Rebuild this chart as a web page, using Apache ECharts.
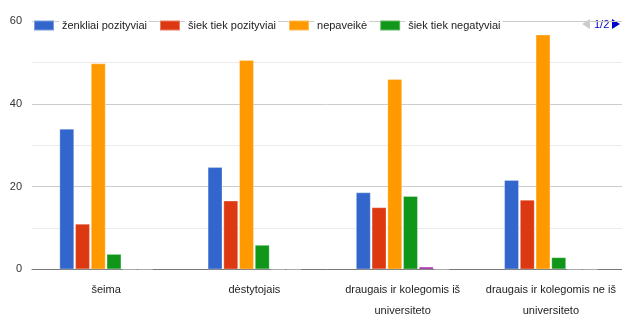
<!DOCTYPE html>
<html>
<head>
<meta charset="utf-8">
<script src="https://cdn.jsdelivr.net/npm/echarts@6/dist/echarts.min.js"></script>
<style>
html,body{margin:0;padding:0;background:#fff;}
#chart{width:622px;height:315px;}
</style>
</head>
<body>
<div id="chart"></div>
<script>
var categories = ['šeima', 'dėstytojais', 'draugais ir kolegomis iš\nuniversiteto', 'draugais ir kolegomis ne iš\nuniversiteto'];
var seriesNames = ['ženkliai pozityviai', 'šiek tiek pozityviai', 'nepaveikė', 'šiek tiek negatyviai', 'ženkliai negatyviai', 'nežinau'];
var legendPage1 = ['ženkliai pozityviai', 'šiek tiek pozityviai', 'nepaveikė', 'šiek tiek negatyviai'];
var seriesColors = ['#3366cc', '#dc3912', '#ff9900', '#109618', '#990099', '#0099c6'];
var zenkliaiPozityviai = [34, 24.7, 18.6, 21.6];
var siekTiekPozityviai = [11, 16.6, 15.0, 16.8];
var nepaveike = [49.8, 50.6, 46.0, 56.8];
var siekTiekNegatyviai = [3.7, 5.9, 17.7, 2.9];
var zenkliaiNegatyviai = [0, 0, 0.6, 0];
var nezinau = [0, 0, 0, 0];
var yTickLabels = [0, 20, 40, 60];

var allValues = [zenkliaiPozityviai, siekTiekPozityviai, nepaveike, siekTiekNegatyviai, zenkliaiNegatyviai, nezinau];
var font = '"Liberation Sans", Arial, sans-serif';

var chart = echarts.init(document.getElementById('chart'), null, {renderer: 'canvas'});
var series = seriesNames.map(function (n, i) {
  return {
    name: n,
    type: 'bar',
    data: allValues[i],
    barWidth: 14.7,
    barGap: '7%',
    itemStyle: {color: seriesColors[i], borderColor: 'rgba(255,255,255,0.35)', borderWidth: 0.8},
    emphasis: {disabled: true},
    animation: false
  };
});

chart.setOption({
  animation: false,
  grid: {left: 32, right: -3, top: 21.3, bottom: 45.7, containLabel: false, outerBoundsMode: 'none'},
  legend: {
    type: 'plain',
    left: 28, top: 14,
    itemWidth: 20, itemHeight: 10, itemGap: 10,
    icon: 'rect',
    textStyle: {fontFamily: font, fontSize: 11, color: '#222', backgroundColor: '#fff', padding: [1, 2, 1, 3]},
    data: legendPage1,
    selectedMode: false
  },
  graphic: [
    {type: 'polygon', shape: {points: [[590, 19], [590, 29], [582, 24]]}, style: {fill: '#cccccc'}, silent: true},
    {type: 'text', x: 594, y: 19, style: {text: '1/2', fill: '#0000cc', font: '11px ' + font, backgroundColor: '#fff'}, silent: true},
    {type: 'polygon', shape: {points: [[612, 19], [612, 29], [620, 24]]}, style: {fill: '#0000cc'}, silent: true}
  ],
  xAxis: {
    type: 'category',
    data: categories,
    axisLine: {show: true, lineStyle: {color: '#777', width: 1}},
    axisTick: {show: false},
    axisLabel: {fontFamily: font, fontSize: 11, color: '#222', margin: 10, lineHeight: 21, interval: 0}
  },
  yAxis: {
    type: 'value',
    min: 0, max: 60, interval: 10,
    axisLine: {show: false},
    axisTick: {show: false},
    splitLine: {show: true, lineStyle: {color: ['#cccccc', '#ebebeb'], width: 1}},
    axisLabel: {
      fontFamily: font, fontSize: 11, color: '#333', margin: 10,
      formatter: function (v) { return yTickLabels.indexOf(v) >= 0 ? String(v) : ''; }
    }
  },
  series: series
});
</script>
</body>
</html>
